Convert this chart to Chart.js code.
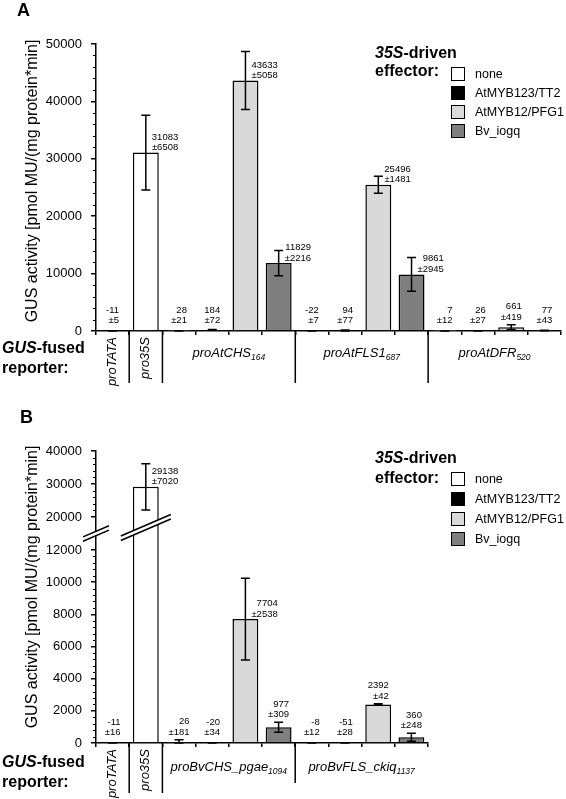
<!DOCTYPE html>
<html>
<head>
<meta charset="utf-8">
<script src="https://cdn.jsdelivr.net/npm/chart.js@4.4.1/dist/chart.umd.min.js"></script>
<style>
  html, body { margin: 0; padding: 0; background: #fff; }
  #wrap { position: relative; width: 566px; height: 799px; }
  canvas { position: absolute; left: 0; }
  #chartA { top: 0; }
  #chartB { top: 395px; }
</style>
</head>
<body>
<div id="wrap">
  <canvas id="chartA" width="566" height="395"></canvas>
  <canvas id="chartB" width="566" height="404"></canvas>
</div>
<script>
// ---------- data: panel A ----------
const reportersA = ['proTATA', 'pro35S',
  'proAtCHS|164', 'proAtCHS|164', 'proAtCHS|164', 'proAtCHS|164',
  'proAtFLS1|687', 'proAtFLS1|687', 'proAtFLS1|687', 'proAtFLS1|687',
  'proAtDFR|520', 'proAtDFR|520', 'proAtDFR|520', 'proAtDFR|520'];
const effectorsA = ['none', 'none',
  'none', 'AtMYB123/TT2', 'AtMYB12/PFG1', 'Bv_iogq',
  'none', 'AtMYB123/TT2', 'AtMYB12/PFG1', 'Bv_iogq',
  'none', 'AtMYB123/TT2', 'AtMYB12/PFG1', 'Bv_iogq'];
const valuesA = [-11, 31083, 28, 184, 43633, 11829, -22, 94, 25496, 9861, 7, 26, 661, 77];
const errorsA = [5, 6508, 21, 72, 5058, 2216, 7, 77, 1481, 2945, 12, 27, 419, 43];
const yTicksA = [0, 10000, 20000, 30000, 40000, 50000];

// ---------- data: panel B ----------
const reportersB = ['proTATA', 'pro35S',
  'proBvCHS_pgae|1094', 'proBvCHS_pgae|1094', 'proBvCHS_pgae|1094', 'proBvCHS_pgae|1094',
  'proBvFLS_ckiq|1137', 'proBvFLS_ckiq|1137', 'proBvFLS_ckiq|1137', 'proBvFLS_ckiq|1137'];
const effectorsB = ['none', 'none',
  'none', 'AtMYB123/TT2', 'AtMYB12/PFG1', 'Bv_iogq',
  'none', 'AtMYB123/TT2', 'AtMYB12/PFG1', 'Bv_iogq'];
const valuesB = [-11, 29138, 26, -20, 7704, 977, -8, -51, 2392, 360];
const errorsB = [16, 7020, 181, 34, 2538, 309, 12, 28, 42, 248];
const yTicksB = [0, 2000, 4000, 6000, 8000, 10000, 12000, 20000, 30000, 40000];

const effectorNames = ['none', 'AtMYB123/TT2', 'AtMYB12/PFG1', 'Bv_iogq'];

// ---------- styles ----------
const FONT = "'Liberation Sans', Arial, sans-serif";
const effectorColors = {
  'none': '#ffffff',
  'AtMYB123/TT2': '#000000',
  'AtMYB12/PFG1': '#d9d9d9',
  'Bv_iogq': '#7f7f7f'
};

// broken y axis for panel B: value breakpoints and where they sit on the axis (0..1)
const breakValuesB = [0, 12000, 20000, 40000];
const breakFracsB = [0, 0.661, 0.774, 1];

class BrokenLinearScale extends Chart.LinearScale {
  getPixelForValue(value) {
    let i = 1;
    while (i < breakValuesB.length - 1 && value > breakValuesB[i]) i++;
    const t = (value - breakValuesB[i - 1]) / (breakValuesB[i] - breakValuesB[i - 1]);
    return this.getPixelForDecimal(breakFracsB[i - 1] + t * (breakFracsB[i] - breakFracsB[i - 1]));
  }
  getValueForPixel(pixel) {
    const d = this.getDecimalForPixel(pixel);
    let i = 1;
    while (i < breakFracsB.length - 1 && d > breakFracsB[i]) i++;
    const t = (d - breakFracsB[i - 1]) / (breakFracsB[i] - breakFracsB[i - 1]);
    return breakValuesB[i - 1] + t * (breakValuesB[i] - breakValuesB[i - 1]);
  }
}
BrokenLinearScale.id = 'brokenLinear';
BrokenLinearScale.defaults = Chart.LinearScale.defaults;
Chart.register(BrokenLinearScale);

// draw text made of several runs (italic / subscript parts)
function drawRuns(ctx, x, y, runs, align) {
  let total = 0;
  runs.forEach(r => { ctx.font = r.font; r.w = ctx.measureText(r.text).width; total += r.w; });
  let cx = align === 'center' ? x - total / 2 : x;
  ctx.textAlign = 'left';
  runs.forEach(r => {
    ctx.font = r.font;
    ctx.fillText(r.text, cx, y + (r.dy || 0));
    cx += r.w;
  });
}

function makeChart(canvasId, p) {
  const canvas = document.getElementById(canvasId);
  const H = canvas.height;

  const decor = {
    id: 'decor',
    afterDatasetsDraw(chart) {
      const ctx = chart.ctx;
      const ys = chart.scales.y;
      const area = chart.chartArea;
      const bars = chart.getDatasetMeta(0).data;
      ctx.save();
      ctx.strokeStyle = '#000';
      ctx.lineWidth = 1.5;
      bars.forEach((el, i) => {
        const v = p.values[i], e = p.errors[i];
        const yT = Math.max(area.top, Math.min(area.bottom, ys.getPixelForValue(v + e)));
        const yB = Math.max(area.top, Math.min(area.bottom, ys.getPixelForValue(v - e)));
        ctx.beginPath();
        ctx.moveTo(el.x, yT); ctx.lineTo(el.x, yB);
        ctx.moveTo(el.x - 4.5, yT); ctx.lineTo(el.x + 4.5, yT);
        ctx.moveTo(el.x - 4.5, yB); ctx.lineTo(el.x + 4.5, yB);
        ctx.stroke();
      });
      ctx.restore();
    },
    afterDraw(chart) {
      const ctx = chart.ctx;
      const ys = chart.scales.y;
      const xs = chart.scales.x;
      const area = chart.chartArea;
      const bars = chart.getDatasetMeta(0).data;
      const zero = ys.getPixelForValue(0);
      ctx.save();
      ctx.fillStyle = '#000';
      ctx.strokeStyle = '#000';

      // minor ticks on the y axis
      ctx.lineWidth = 1;
      ctx.beginPath();
      p.minor.forEach(([a, b, step]) => {
        for (let v = a; v <= b; v += step) {
          if (p.yTicks.includes(v)) continue;
          const y = Math.round(ys.getPixelForValue(v)) + 0.5;
          ctx.moveTo(area.left - 3, y); ctx.lineTo(area.left, y);
        }
      });
      ctx.stroke();

      // axis break marks
      if (p.breakAt) {
        const cy = ys.getPixelForValue(p.breakAt);
        const marks = [[area.left, cy, 13], [bars[1].x, cy - 6, 25]];
        marks.forEach(([cx, my, h]) => {
          const s = 0.43, g = 2.2;
          ctx.fillStyle = '#fff';
          ctx.beginPath();
          ctx.moveTo(cx - h, my + h * s - g); ctx.lineTo(cx + h, my - h * s - g);
          ctx.lineTo(cx + h, my - h * s + g); ctx.lineTo(cx - h, my + h * s + g);
          ctx.closePath(); ctx.fill();
          ctx.lineWidth = 1.5;
          ctx.beginPath();
          ctx.moveTo(cx - h, my + h * s - g); ctx.lineTo(cx + h, my - h * s - g);
          ctx.moveTo(cx - h, my + h * s + g); ctx.lineTo(cx + h, my - h * s + g);
          ctx.stroke();
        });
        ctx.fillStyle = '#000';
      }

      // value labels
      ctx.font = `9.5px ${FONT}`;
      ctx.textAlign = 'right';
      ctx.textBaseline = 'alphabetic';
      bars.forEach((el, i) => {
        const v = p.values[i], e = p.errors[i];
        const l1 = String(v), l2 = '\u00b1' + e;
        const w = Math.max(ctx.measureText(l1).width, ctx.measureText(l2).width);
        const top = ys.getPixelForValue(v);
        let right, base;
        if (zero - top > 45) {
          right = el.x + 6 + w;
          base = top - 2.5;
        } else {
          right = el.x + w / 2;
          base = Math.min(zero - 8, ys.getPixelForValue(v + e) - 5);
        }
        ctx.fillText(l1, right, base - 10.5);
        ctx.fillText(l2, right, base);
      });

      // reporter labels and separators
      const runs = [];
      p.reporters.forEach((r, i) => {
        if (runs.length && runs[runs.length - 1].name === r) runs[runs.length - 1].end = i;
        else runs.push({ name: r, start: i, end: i });
      });
      const slotEdge = i => (xs.getPixelForValue(i - 1) + xs.getPixelForValue(i)) / 2;
      ctx.lineWidth = 1.5;
      runs.forEach((run, k) => {
        if (k > 0) {
          const x = slotEdge(run.start);
          const len = (run.start === run.end || runs[k - 1].start === runs[k - 1].end) ? p.sepLong : p.sepShort;
          ctx.beginPath();
          ctx.moveTo(x, area.bottom); ctx.lineTo(x, area.bottom + len);
          ctx.stroke();
        }
        const [name, sub] = run.name.split('|');
        if (run.start === run.end) {
          const x = xs.getPixelForValue(run.start);
          ctx.save();
          ctx.translate(x, area.bottom + 6);
          ctx.rotate(-Math.PI / 2);
          ctx.font = `italic 13px ${FONT}`;
          ctx.textAlign = 'right';
          ctx.textBaseline = 'middle';
          ctx.fillText(name, 0, 0);
          ctx.restore();
        } else {
          const x = (xs.getPixelForValue(run.start) + xs.getPixelForValue(run.end)) / 2;
          drawRuns(ctx, x, area.bottom + p.groupDy, [
            { text: name, font: `italic 13px ${FONT}` },
            { text: sub, font: `italic 8.5px ${FONT}`, dy: 3 }
          ], 'center');
        }
      });

      // "GUS-fused reporter:"
      ctx.textBaseline = 'alphabetic';
      drawRuns(ctx, 2, p.repY, [
        { text: 'GUS', font: `italic bold 16px ${FONT}` },
        { text: '-fused', font: `bold 16px ${FONT}` }
      ]);
      drawRuns(ctx, 2, p.repY + 20, [{ text: 'reporter:', font: `bold 16px ${FONT}` }]);

      // panel letter
      ctx.font = `bold 18px ${FONT}`;
      ctx.textAlign = 'left';
      ctx.fillText(p.letter, p.letterX, p.letterY);

      // y axis title
      ctx.save();
      ctx.translate(33, p.titleY);
      ctx.rotate(-Math.PI / 2);
      ctx.font = `16px ${FONT}`;
      ctx.textAlign = 'center';
      ctx.textBaseline = 'middle';
      ctx.fillText('GUS activity [pmol MU/(mg protein*min]', 0, 0);
      ctx.restore();

      // legend
      const L = p.legend;
      ctx.textBaseline = 'alphabetic';
      drawRuns(ctx, L.x, L.y1, [
        { text: '35S', font: `italic bold 16px ${FONT}` },
        { text: '-driven', font: `bold 16px ${FONT}` }
      ]);
      drawRuns(ctx, L.x, L.y2, [{ text: 'effector:', font: `bold 16px ${FONT}` }]);
      ctx.lineWidth = 1;
      effectorNames.forEach((name, i) => {
        const by = L.boxY + i * L.gap;
        ctx.fillStyle = effectorColors[name];
        ctx.fillRect(L.boxX, by, 14, 14);
        ctx.strokeRect(L.boxX + 0.5, by + 0.5, 13, 13);
        ctx.fillStyle = '#000';
        ctx.font = `12.5px ${FONT}`;
        ctx.textAlign = 'left';
        ctx.textBaseline = 'middle';
        ctx.fillText(name, L.boxX + 24, by + 7.5);
      });
      ctx.restore();
    }
  };

  return new Chart(canvas, {
    type: 'bar',
    data: {
      labels: p.reporters.map((r, i) => r.replace('|', '') + ' / ' + p.effectors[i]),
      datasets: [{
        data: p.values,
        backgroundColor: p.effectors.map(e => effectorColors[e]),
        borderColor: '#000',
        borderWidth: 1.5,
        borderSkipped: 'start',
        barPercentage: 0.78,
        categoryPercentage: 1,
        clip: 0
      }]
    },
    options: {
      responsive: false,
      animation: false,
      events: [],
      layout: { padding: { top: p.top, right: 566 - p.right, left: 0, bottom: 0 } },
      plugins: { legend: { display: false }, tooltip: { enabled: false } },
      scales: {
        x: {
          type: 'category',
          offset: true,
          grid: { offset: true, drawOnChartArea: false, tickLength: 4, color: '#000', lineWidth: 1.5 },
          border: { color: '#000', width: 1.5 },
          ticks: { display: false },
          afterFit: s => { s.height = H - p.bottom; }
        },
        y: {
          type: p.yType,
          min: 0,
          max: p.yMax,
          grid: { drawOnChartArea: false, tickLength: 5, color: '#000', lineWidth: 1.5 },
          border: { color: '#000', width: 1.5 },
          ticks: {
            autoSkip: false,
            padding: 9,
            color: '#000',
            font: { family: FONT, size: 13 },
            callback: v => String(v)
          },
          afterBuildTicks: s => { s.ticks = p.yTicks.map(v => ({ value: v })); },
          afterFit: s => { s.width = 96; }
        }
      }
    },
    plugins: [decor]
  });
}

makeChart('chartA', {
  reporters: reportersA, effectors: effectorsA, values: valuesA, errors: errorsA,
  yTicks: yTicksA, yType: 'linear', yMax: 50000,
  minor: [[0, 50000, 2000]],
  top: 44, bottom: 331, right: 561,
  sepLong: 52, sepShort: 52, groupDy: 26,
  repY: 353, letter: 'A', letterX: 17, letterY: 16, titleY: 181,
  legend: { x: 375, y1: 58, y2: 76, boxX: 451, boxY: 67, gap: 19 }
});

makeChart('chartB', {
  reporters: reportersB, effectors: effectorsB, values: valuesB, errors: errorsB,
  yTicks: yTicksB, yType: 'brokenLinear', yMax: 40000,
  minor: [[0, 12000, 400], [20000, 40000, 2000]],
  breakAt: 16000,
  top: 56, bottom: 348, right: 428,
  sepLong: 50, sepShort: 40, groupDy: 28,
  repY: 372, letter: 'B', letterX: 20, letterY: 28, titleY: 192,
  legend: { x: 375, y1: 68, y2: 88, boxX: 451, boxY: 77, gap: 20 }
});
</script>
</body>
</html>
